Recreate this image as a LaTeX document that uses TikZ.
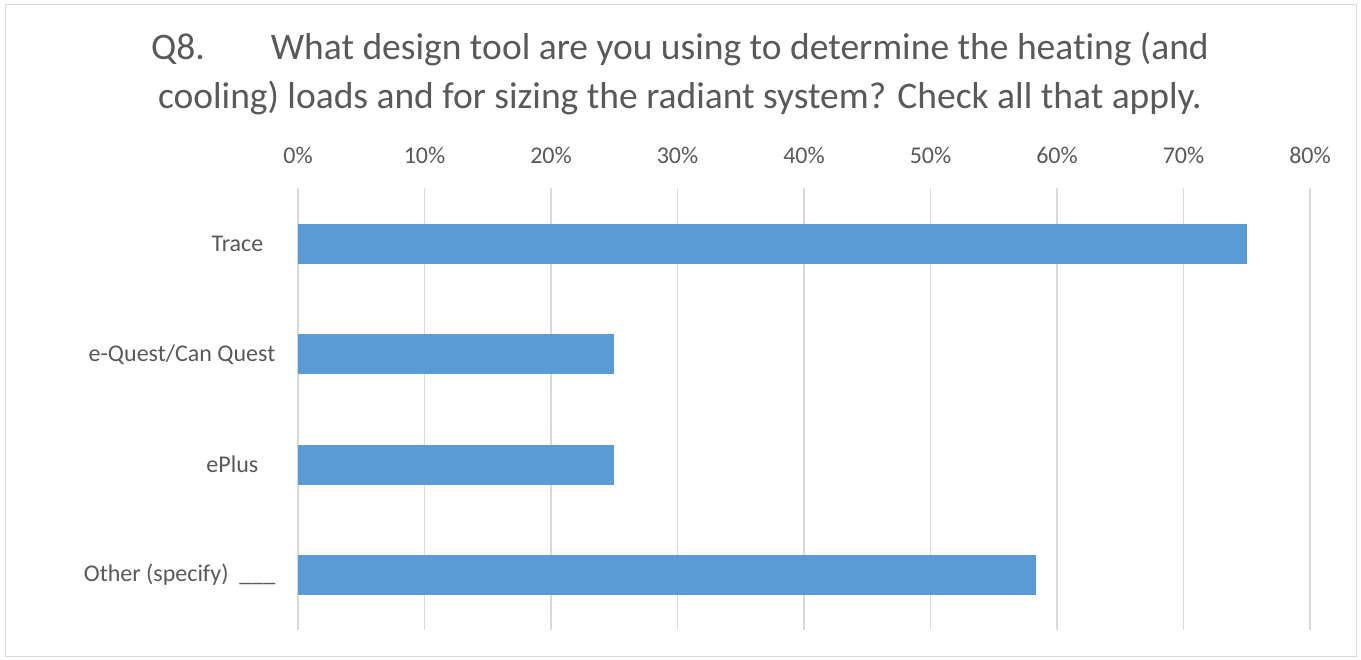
\documentclass[tikz,border=0pt]{standalone}
\usepackage{fontspec}
\setmainfont{Carlito}[Ligatures=NoCommon]
\definecolor{txtgray}{HTML}{595959}
\definecolor{gridgray}{HTML}{D9D9D9}
\definecolor{barblue}{HTML}{5B9BD5}
\tikzset{
  gridline/.style={draw=gridgray, line width=1.5pt},
  tooltick/.style={text=txtgray, font=\fontsize{24}{29}\selectfont, inner sep=0pt},
  toolbar/.style={fill=barblue, draw=none},
  toollabel/.style={text=txtgray, font=\fontsize{24}{29}\selectfont, inner sep=0pt, anchor=east}
}
\begin{document}
\begin{tikzpicture}[x=1pt, y=-1pt]
\useasboundingbox (0,0) rectangle (1361,660);
\fill[white] (0,0) rectangle (1361,660);
\draw[gridgray, line width=1.5pt] (5.5,4.5) rectangle (1356.5,656.5);

% title
\node[text=txtgray, font=\fontsize{37.5}{49}\selectfont, align=center, inner sep=0pt] (title) at (680,74)
  {Q8.\hspace{66pt}What design tool are you using to determine the heating (and\\
   cooling) loads and for sizing the radiant system? Check all that apply.};

% grid and ticks
\foreach \i in {0,...,8}{
  \draw[gridline] (298+126.5*\i,188) -- (298+126.5*\i,630);
}
\foreach \i/\p in {0/0,1/10,2/20,3/30,4/40,5/50,6/60,7/70,8/80}{
  \node[tooltick] (tick\i) at (298+126.5*\i,155) {\p\%};
}

% bars
\def\toolrow(#1,#2,#3,#4,#5){
  \fill[toolbar] (298,#2-20) rectangle (298+12.65*#3,#2+20);
  \node[toollabel] (#1) at (#4,#2) {#5};
}
\toolrow(trace,244,75,263.5,Trace);
\toolrow(equest,354.3,25,275.5,e-Quest/Can Quest);
\toolrow(eplus,464.7,25,258.5,ePlus);
\toolrow(other,575,58.33,275.5,{Other (specify)\ \ \_\_\_});

\end{tikzpicture}
\end{document}
